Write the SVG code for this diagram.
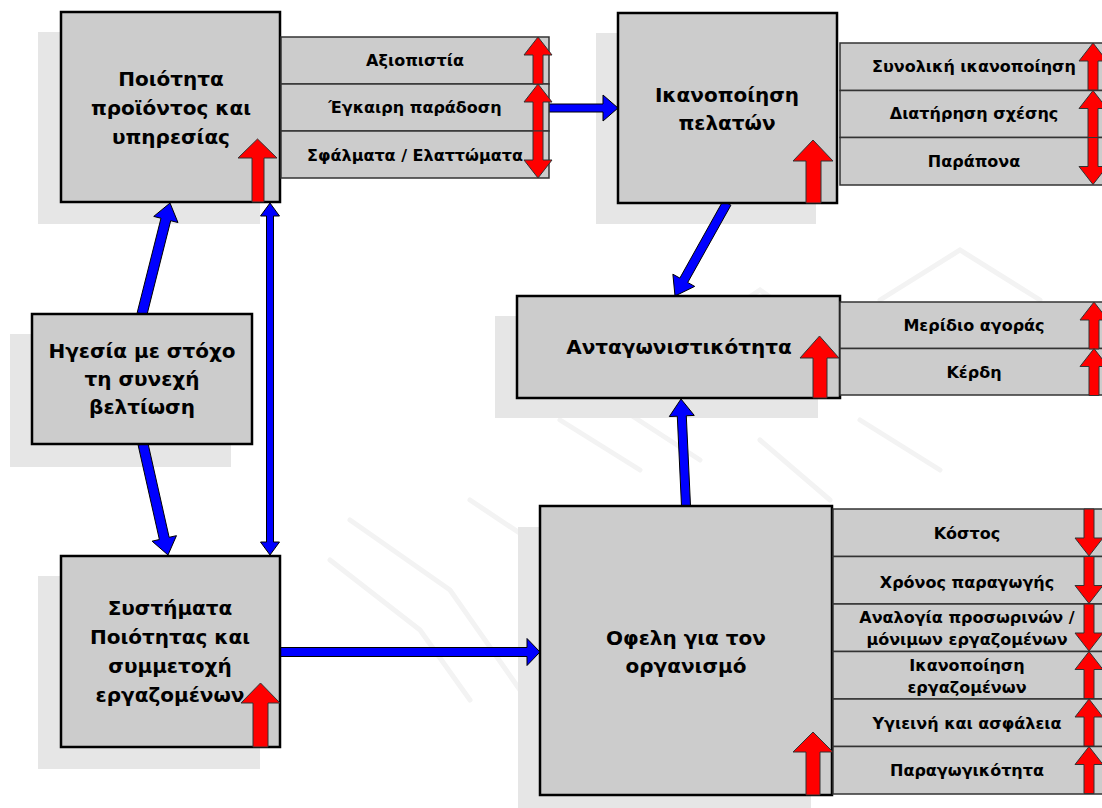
<svg xmlns="http://www.w3.org/2000/svg" width="1102" height="808" viewBox="0 0 1102 808">
<style>
.bg{fill:#ffffff}
.wm{fill:none;stroke:#f3f3f3;stroke-width:5;stroke-linecap:round}
.sh{fill:#e6e6e6}
.box{fill:#cccccc;stroke:#000000;stroke-width:2.5}
.row{fill:#cccccc;stroke:#333333;stroke-width:1.5}
.blue{fill:#0000ff;stroke:#000000;stroke-width:1}
.red{fill:#ff0000;stroke:#333333;stroke-width:1}
.t{font-family:"DejaVu Sans","Liberation Sans",sans-serif;font-weight:bold;font-size:20px;fill:#000000;text-anchor:middle}
.p{font-family:"DejaVu Sans","Liberation Sans",sans-serif;font-weight:bold;font-size:16px;fill:#000000;text-anchor:middle}
</style>
<defs>
<polygon id="pu" points="0,0 14,18 5,18 5,47 -5,47 -5,18 -14,18" class="red"/>
<polygon id="pd" points="0,47 14,29 5,29 5,0 -5,0 -5,29 -14,29" class="red"/>
</defs>
<rect class="bg" x="0" y="0" width="1102" height="808"/>
<g id="watermark">
<path class="wm" d="M1060,70 L1100,100 M1040,95 L1100,140 M700,330 L760,290 L830,340 M880,300 L960,250 L1040,300 M560,420 L640,470 M600,395 L700,460 M860,420 L940,470 M330,560 L420,630 L470,700 M350,520 L450,590 L520,690 M470,500 L560,560 M760,440 L830,500"/>
</g>
<g id="shadows">
<rect class="sh" x="38" y="32" width="222" height="192"/>
<rect class="sh" x="596" y="33" width="220" height="191"/>
<rect class="sh" x="495" y="316" width="323" height="102"/>
<rect class="sh" x="10" y="334" width="221" height="133"/>
<rect class="sh" x="38" y="576" width="222" height="193"/>
<rect class="sh" x="518" y="527" width="293" height="290"/>
</g>
<g id="connectors">
<polygon class="blue" points="146.85,315.22 170.69,220.70 177.96,222.54 170,203 153.72,216.42 160.99,218.26 137.15,312.78"/>
<polygon class="blue" points="138.12,445.10 159.39,539.52 152.08,541.17 168,555 176.46,535.67 169.15,537.32 147.88,442.90"/>
<polygon class="blue" points="270,203 279.5,216 273.5,216 273.5,542 279.5,542 270,555 260.5,542 266.5,542 266.5,216 260.5,216"/>
<polygon class="blue" points="549,104 603,104 603,95 618,108 603,121 603,112 549,112"/>
<polygon class="blue" points="723.07,200.80 679.85,278.09 672.87,274.19 675,296 694.69,286.39 687.71,282.49 730.93,205.20"/>
<polygon class="blue" points="690.50,505.79 686.29,415.77 694.28,415.40 681,399 669.30,416.56 677.29,416.19 681.50,506.21"/>
<polygon class="blue" points="280,647.5 527,647.5 527,638.5 540,652 527,665.5 527,656.5 280,656.5"/>
</g>
<g id="n-quality">
<rect class="box" x="61" y="12" width="219" height="190"/>
<text class="t" x="171" y="86">Ποιότητα</text>
<text class="t" x="171" y="115">προϊόντος και</text>
<text class="t" x="171" y="144">υπηρεσίας</text>
<polygon class="red" points="252,202 252,158 238,158 257.5,139 277,158 264,158 264,202"/>
</g>
<g id="n-quality-panel">
<rect class="row" x="281" y="37" width="268" height="47"/>
<rect class="row" x="281" y="84" width="268" height="47"/>
<rect class="row" x="281" y="131" width="268" height="47"/>
<text class="p" x="415" y="66">Αξιοπιστία</text>
<text class="p" x="415" y="113">Έγκαιρη παράδοση</text>
<text class="p" x="415" y="161">Σφάλματα / Ελαττώματα</text>
<use href="#pu" x="538" y="37"/>
<use href="#pu" x="538" y="84"/>
<use href="#pd" x="538" y="131"/>
</g>
<g id="n-customer">
<rect class="box" x="618" y="13" width="219" height="190"/>
<text class="t" x="727" y="102">Ικανοποίηση</text>
<text class="t" x="727" y="130">πελατών</text>
<polygon class="red" points="806,203 806,161 793,161 813,140 833,161 821,161 821,203"/>
</g>
<g id="n-customer-panel">
<rect class="row" x="840" y="43" width="264" height="47.5"/>
<rect class="row" x="840" y="90.5" width="264" height="47"/>
<rect class="row" x="840" y="137.5" width="264" height="47.5"/>
<text class="p" x="974" y="72">Συνολική ικανοποίηση</text>
<text class="p" x="974" y="119">Διατήρηση σχέσης</text>
<text class="p" x="974" y="167">Παράπονα</text>
<use href="#pu" x="1093" y="43"/>
<use href="#pu" x="1093" y="90.5"/>
<use href="#pd" x="1093" y="137.5"/>
</g>
<g id="n-competitiveness">
<rect class="box" x="517" y="296" width="323" height="102"/>
<text class="t" x="679" y="354">Ανταγωνιστικότητα</text>
<polygon class="red" points="813,398 813,358 800,358 819.5,336 839,358 827,358 827,398"/>
</g>
<g id="n-competitiveness-panel">
<rect class="row" x="840" y="302" width="264" height="46.5"/>
<rect class="row" x="840" y="348.5" width="264" height="46.5"/>
<text class="p" x="974" y="331">Μερίδιο αγοράς</text>
<text class="p" x="974" y="378">Κέρδη</text>
<use href="#pu" x="1094" y="302"/>
<use href="#pu" x="1094" y="348.5"/>
</g>
<g id="n-leadership">
<rect class="box" x="32" y="314" width="220" height="130"/>
<text class="t" x="142" y="358">Ηγεσία με στόχο</text>
<text class="t" x="142" y="386">τη συνεχή</text>
<text class="t" x="142" y="414">βελτίωση</text>
</g>
<g id="n-systems">
<rect class="box" x="61" y="556" width="219" height="191"/>
<text class="t" x="170" y="615">Συστήματα</text>
<text class="t" x="170" y="644">Ποιότητας και</text>
<text class="t" x="170" y="673">συμμετοχή</text>
<text class="t" x="170" y="702">εργαζομένων</text>
<polygon class="red" points="253,747 253,703 241,703 260.5,683 280,703 268,703 268,747"/>
</g>
<g id="n-benefits">
<rect class="box" x="540" y="506" width="292" height="289"/>
<text class="t" x="686" y="645">Οφελη για τον</text>
<text class="t" x="686" y="673">οργανισμό</text>
<polygon class="red" points="806,795 806,752 793,752 813,732 833,752 820,752 820,795"/>
</g>
<g id="n-benefits-panel">
<rect class="row" x="833" y="509" width="271" height="47.5"/>
<rect class="row" x="833" y="556.5" width="271" height="47.5"/>
<rect class="row" x="833" y="604" width="271" height="47.5"/>
<rect class="row" x="833" y="651.5" width="271" height="47.5"/>
<rect class="row" x="833" y="699" width="271" height="47.5"/>
<rect class="row" x="833" y="746.5" width="271" height="47.5"/>
<text class="p" x="967" y="539">Κόστος</text>
<text class="p" x="967" y="588">Χρόνος παραγωγής</text>
<text class="p" x="967" y="623">Αναλογία προσωρινών /</text>
<text class="p" x="967" y="645">μόνιμων εργαζομένων</text>
<text class="p" x="967" y="671">Ικανοποίηση</text>
<text class="p" x="967" y="693">εργαζομένων</text>
<text class="p" x="967" y="729">Υγιεινή και ασφάλεια</text>
<text class="p" x="967" y="776">Παραγωγικότητα</text>
<use href="#pd" x="1089" y="509"/>
<use href="#pd" x="1089" y="556.5"/>
<use href="#pd" x="1089" y="604"/>
<use href="#pu" x="1089" y="651.5"/>
<use href="#pu" x="1089" y="699"/>
<use href="#pu" x="1089" y="746.5"/>
</g>
</svg>
